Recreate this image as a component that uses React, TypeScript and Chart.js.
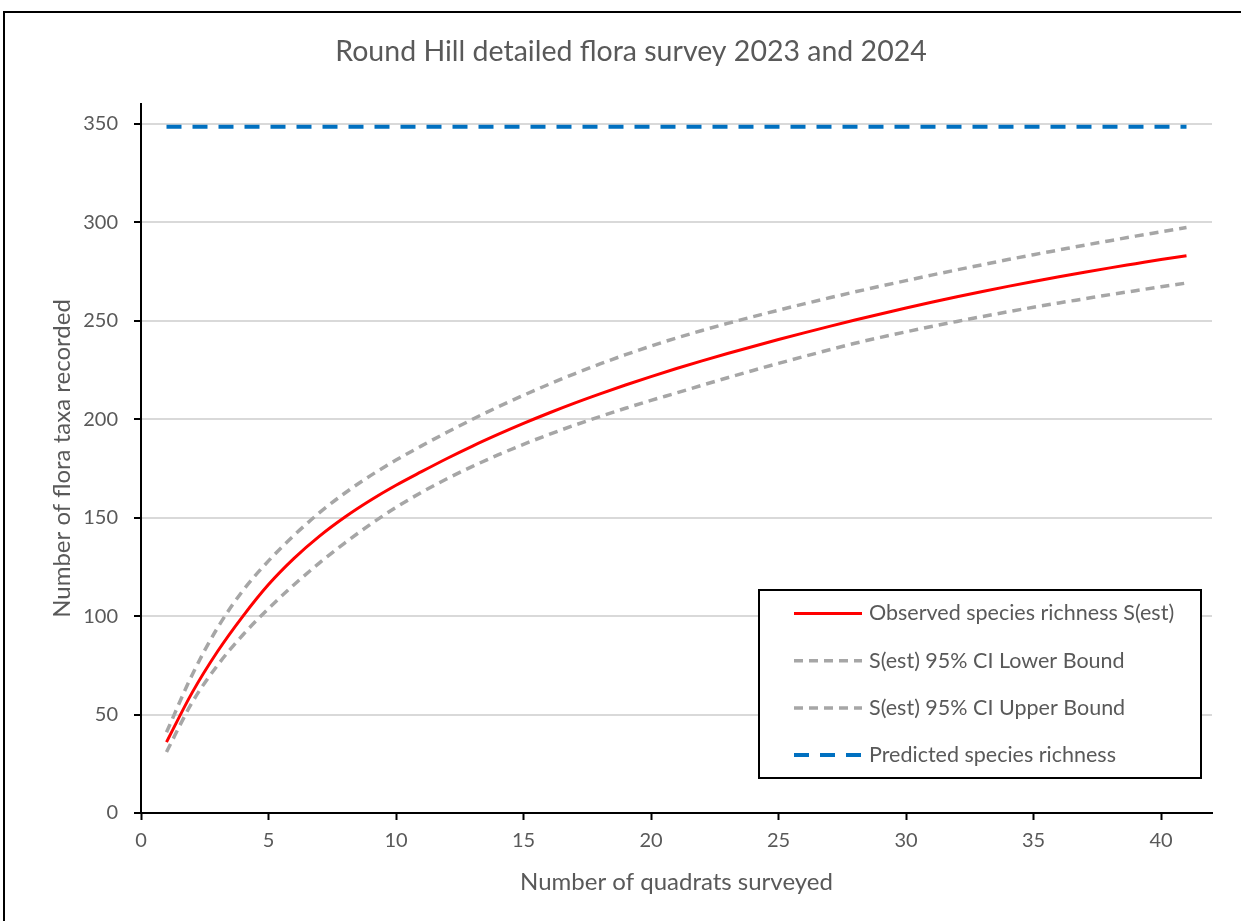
import React, { useEffect, useRef } from "react";
import { Chart, registerables } from "chart.js";

Chart.register(...registerables);

// ---- Data ----
const quadrats = [
  1, 2, 3, 4, 5, 6, 7, 8, 9, 10, 11, 12, 13, 14, 15, 16, 17, 18, 19, 20, 21,
  22, 23, 24, 25, 26, 27, 28, 29, 30, 31, 32, 33, 34, 35, 36, 37, 38, 39, 40, 41,
];
const observed = [
  36, 61, 82, 100, 116, 129.3, 140.6, 150.3, 158.8, 166.4, 173.3, 180.0, 186.3,
  192.2, 197.8, 203.1, 208.1, 212.8, 217.3, 221.6, 225.7, 229.6, 233.3, 236.9,
  240.4, 243.8, 247.1, 250.3, 253.4, 256.4, 259.3, 262.1, 264.8, 267.4, 269.9,
  272.3, 274.6, 276.8, 278.9, 281.0, 283.0,
];
const lowerCI = [
  31, 56, 75, 90.5, 103.8, 115.9, 127.0, 137.2, 146.6, 155.2, 162.8, 169.7,
  176.0, 181.8, 187.2, 192.2, 196.9, 201.3, 205.5, 209.5, 213.3, 217.2, 221.0,
  224.7, 228.3, 231.8, 235.2, 238.5, 241.5, 244.3, 247.0, 249.6, 252.1, 254.5,
  256.8, 259.0, 261.1, 263.2, 265.2, 267.2, 269.1,
];
const upperCI = [
  41, 70, 94, 113, 128, 141, 152.5, 162.5, 171.3, 179.2, 186.4, 193.3, 199.9,
  206.2, 212.1, 217.7, 223.0, 228.0, 232.7, 237.1, 241.2, 245.0, 248.6, 252.0,
  255.3, 258.5, 261.6, 264.6, 267.5, 270.3, 273.1, 275.8, 278.4, 281.0, 283.5,
  285.9, 288.3, 290.6, 292.9, 295.1, 297.3,
];
const predictedX = [1, 41];
const predictedY = [348.5, 348.5];

const seriesLabels = [
  "Observed species richness S(est)",
  "S(est) 95% CI Lower Bound",
  "S(est) 95% CI Upper Bound",
  "Predicted species richness",
];
const chartTitle = "Round Hill detailed flora survey 2023 and 2024";
const xTitle = "Number of quadrats surveyed";
const yTitle = "Number of flora taxa recorded";
const xRange = [0, 42];
const yRange = [0, 360];
const xTickValues = [0, 5, 10, 15, 20, 25, 30, 35, 40];
const yTickValues = [0, 50, 100, 150, 200, 250, 300, 350];

const FONT = "Lato";
const TEXT = "#595959";

const toPoints = (xs: number[], ys: number[]) =>
  xs.map((x, i) => ({ x, y: ys[i] }));

const boxLegend = {
  id: "boxLegend",
  afterDraw(chart: any) {
    const { ctx, chartArea } = chart;
    const w = 442;
    const h = 188;
    const right = chartArea.right - 11;
    const bottom = chartArea.bottom - 35;
    const left = right - w;
    const top = bottom - h;
    ctx.save();
    ctx.fillStyle = "#ffffff";
    ctx.fillRect(left, top, w, h);
    ctx.setLineDash([]);
    ctx.lineWidth = 2;
    ctx.strokeStyle = "#000000";
    ctx.strokeRect(left, top, w, h);
    ctx.font = `21.5px ${FONT}`;
    ctx.textBaseline = "middle";
    ctx.textAlign = "left";
    chart.data.datasets.forEach((ds: any, i: number) => {
      const y = top + 23.5 + i * 47.2;
      ctx.beginPath();
      ctx.setLineDash(ds.borderDash || []);
      ctx.lineWidth = ds.borderWidth;
      ctx.strokeStyle = ds.borderColor;
      ctx.lineCap = "butt";
      ctx.moveTo(left + 35, y);
      ctx.lineTo(left + 103, y);
      ctx.stroke();
      ctx.setLineDash([]);
      ctx.fillStyle = TEXT;
      ctx.fillText(ds.label, left + 110, y);
    });
    ctx.restore();
  },
};

export default function App() {
  const canvasRef = useRef<HTMLCanvasElement | null>(null);

  useEffect(() => {
    if (!canvasRef.current) return;
    const chart = new Chart(canvasRef.current, {
      type: "line",
      data: {
        datasets: [
          {
            label: seriesLabels[0],
            data: toPoints(quadrats, observed),
            borderColor: "#FF0000",
            borderWidth: 3,
            pointRadius: 0,
            cubicInterpolationMode: "monotone",
            fill: false,
          },
          {
            label: seriesLabels[1],
            data: toPoints(quadrats, lowerCI),
            borderColor: "#A6A6A6",
            borderWidth: 3.5,
            borderDash: [9, 6],
            pointRadius: 0,
            cubicInterpolationMode: "monotone",
            fill: false,
          },
          {
            label: seriesLabels[2],
            data: toPoints(quadrats, upperCI),
            borderColor: "#A6A6A6",
            borderWidth: 3.5,
            borderDash: [9, 6],
            pointRadius: 0,
            cubicInterpolationMode: "monotone",
            fill: false,
          },
          {
            label: seriesLabels[3],
            data: toPoints(predictedX, predictedY),
            borderColor: "#0070C0",
            borderWidth: 4,
            borderDash: [15, 11],
            pointRadius: 0,
            fill: false,
          },
        ],
      },
      options: {
        animation: false,
        responsive: true,
        maintainAspectRatio: false,
        layout: { padding: { left: 21, right: 0, top: 0, bottom: 0 } },
        plugins: {
          legend: { display: false },
          tooltip: { enabled: false },
          title: {
            display: true,
            text: chartTitle,
            color: TEXT,
            font: { family: FONT, size: 28.5, weight: "normal" },
            padding: { top: 34.9, bottom: 34.9 },
          },
        },
        scales: {
          x: {
            type: "linear",
            min: xRange[0],
            max: xRange[1],
            afterBuildTicks: (scale: any) => {
              scale.ticks = xTickValues.map((v) => ({ value: v }));
            },
            afterFit: (scale: any) => {
              scale.height = 108;
            },
            ticks: {
              color: TEXT,
              font: { family: FONT, size: 20 },
              padding: 9,
              maxRotation: 0,
            },
            grid: {
              drawOnChartArea: false,
              drawTicks: true,
              tickLength: 7,
              tickColor: "#000000",
              tickWidth: 2,
            },
            border: { color: "#000000", width: 2 },
            title: {
              display: true,
              text: xTitle,
              color: TEXT,
              font: { family: FONT, size: 24 },
              padding: { top: 0, bottom: 24.6 },
            },
          },
          y: {
            type: "linear",
            min: yRange[0],
            max: yRange[1],
            afterBuildTicks: (scale: any) => {
              scale.ticks = yTickValues.map((v) => ({ value: v }));
            },
            afterFit: (scale: any) => {
              scale.width = 120;
            },
            ticks: {
              color: TEXT,
              font: { family: FONT, size: 20 },
              padding: 16,
            },
            grid: {
              color: "#D9D9D9",
              lineWidth: 2,
              drawTicks: true,
              tickLength: 7,
              tickColor: "#000000",
              tickWidth: 2,
            },
            border: { color: "#000000", width: 2 },
            title: {
              display: true,
              text: yTitle,
              color: TEXT,
              font: { family: FONT, size: 24 },
              padding: { top: 26.6, bottom: 0 },
            },
          },
          // empty right-hand spacer so the plot ends where the reference's does
          yRight: {
            type: "linear",
            position: "right",
            display: true,
            min: yRange[0],
            max: yRange[1],
            grid: { display: false, drawTicks: false },
            border: { display: false },
            ticks: { display: false },
            afterFit: (scale: any) => {
              scale.width = 29;
            },
          },
        },
      },
      plugins: [boxLegend],
    } as any);
    return () => chart.destroy();
  }, []);

  return (
    <div
      style={{
        position: "fixed",
        left: 0,
        top: 0,
        width: 1241,
        height: 921,
        overflow: "hidden",
        background: "#ffffff",
      }}
    >
      <div
        style={{
          position: "absolute",
          left: 3,
          top: 11,
          width: 1300,
          height: 1000,
          borderLeft: "2px solid #000",
          borderTop: "2px solid #000",
        }}
      />
      <div
        style={{
          position: "absolute",
          left: 0,
          top: 0,
          width: 1241,
          height: 921,
        }}
      >
        <canvas ref={canvasRef} />
      </div>
    </div>
  );
}
